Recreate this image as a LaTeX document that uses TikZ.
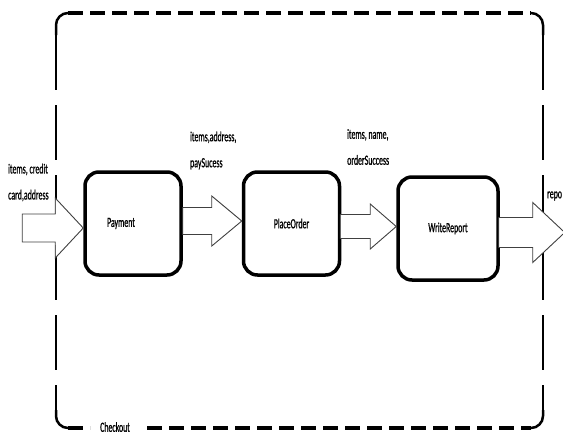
\documentclass[tikz,border=0pt]{standalone}
\usepackage{fontspec}
\setmainfont{Carlito}[FakeStretch=0.56, FakeBold=0.8]
\usetikzlibrary{positioning,calc}

% block arrow: tip, shaft length, head length, shaft half width, head half width
\newcommand{\blockarrow}[5]{\draw[flow] (#1) -- ++(-#3,-#5) -- ++(0,#5-#4) -- ++(-#2,0) -- ++(0,2*#4) -- ++(#2,0) -- ++(0,#5-#4) -- cycle;}

\begin{document}
\begin{tikzpicture}[x=1pt, y=-1pt, node distance=55pt,
  task/.style={draw, line width=3.5pt, rounded corners=14pt, minimum width=96pt, minimum height=103pt, font=\fontsize{14pt}{15pt}\selectfont},
  lbl/.style={align=left, anchor=west, inner sep=0pt, font=\fontsize{14pt}{26pt}\selectfont},
  flow/.style={draw=black!75, line width=0.9pt, fill=white},
  frameh/.style={line width=3.5pt, dash pattern=on 15pt off 7pt},
  framev/.style={line width=1.6pt, dash pattern=on 55pt off 15pt},
  framec/.style={line width=2.5pt, rounded corners=12pt}]
\useasboundingbox (0,0) rectangle (563,434);

% Checkout frame
\draw[frameh] (68,13) -- (531,13);
\draw[frameh] (68,428) -- (90,428);
\draw[frameh] (147,428) -- (531,428);
\draw[framec] (56,35) |- (68,13);
\draw[framec] (543,35) |- (531,13);
\draw[framec] (56,410) |- (68,428);
\draw[framec] (543,410) |- (531,428);
\draw[framev] (56,35) -- (56,410);
\draw[framev] (543,35) -- (543,410);
\node[lbl] (chk) at (100,427) {Checkout};

% tasks
\node[task] (pay) at (133,223.5) {Payment\hspace*{24pt}};
\node[task] (place) [right=59pt of pay] {PlaceOrder};
\node[task, minimum width=100pt] (write) [right=55pt of place, yshift=-5pt] {WriteReport};
\coordinate (repoend) at ($(write.east)+(65,4)$);

% flows
\blockarrow{$(pay.west)+(0,4.5)$}{33}{28}{14}{30}
\blockarrow{$(place.west)+(0,-2.5)$}{29}{30}{13.5}{25}
\blockarrow{$(write.west)+(0,-2)$}{30}{26}{12}{22.5}
\blockarrow{repoend}{34}{32}{15}{30}

% flow labels
\node[lbl] (inlbl) at (8,182.5) {items, credit\\card,address};
\node[lbl] (paylbl) at (190,150.5) {items,address,\\paySucess};
\node[lbl] (ordlbl) at (347,147) {items, name,\\orderSuccess};
\node[lbl] (repolbl) at (547,196) {repo};
\end{tikzpicture}
\end{document}
